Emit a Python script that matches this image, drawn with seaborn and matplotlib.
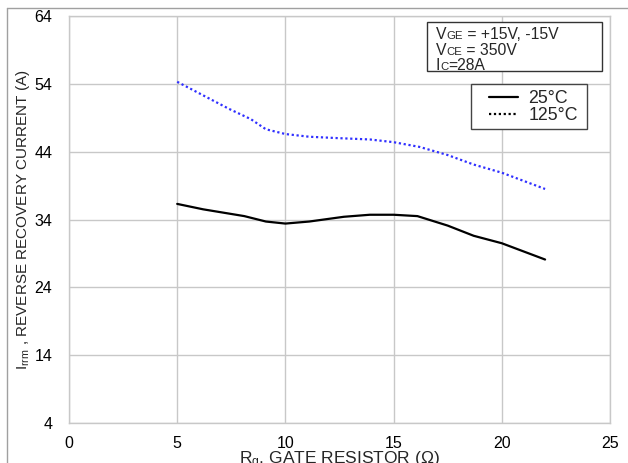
import matplotlib
matplotlib.use("Agg")
import matplotlib.pyplot as plt
import seaborn as sns
import pandas as pd
from matplotlib.lines import Line2D
from matplotlib.patches import Rectangle
from matplotlib.offsetbox import TextArea, HPacker, VPacker, AnchoredOffsetbox

# -----------------------------
# DATA
# -----------------------------
rg_25 = [5, 6.2, 8.1, 9.1, 10, 11.1, 12.7, 13.9, 15, 16.1, 17.5, 18.7, 20, 22]
irrm_25 = [36.3, 35.5, 34.5, 33.7, 33.4, 33.7, 34.4, 34.7, 34.7, 34.5, 33.1, 31.6, 30.5, 28.1]

rg_125 = [5, 6.2, 7.4, 8.4, 9.1, 10, 11.1, 12.4, 13.9, 15, 16.2, 17.5, 18.7, 20, 22]
irrm_125 = [54.3, 52.3, 50.3, 48.8, 47.3, 46.6, 46.2, 46.0, 45.8, 45.4, 44.7, 43.5, 42.1, 40.9, 38.5]

x_ticks = [0, 5, 10, 15, 20, 25]
y_ticks = [4, 14, 24, 34, 44, 54, 64]
legend_labels = ["25°C", "125°C"]

df25 = pd.DataFrame({"rg": rg_25, "irrm": irrm_25})
df125 = pd.DataFrame({"rg": rg_125, "irrm": irrm_125})

# -----------------------------
# STYLE
# -----------------------------
sns.set_style("whitegrid")
plt.rcParams["font.family"] = ["Liberation Sans", "DejaVu Sans"]
plt.rcParams["mathtext.fontset"] = "custom"
plt.rcParams["mathtext.rm"] = "Liberation Sans"
plt.rcParams["mathtext.it"] = "Liberation Sans"

fig = plt.figure(figsize=(6.28, 4.63), dpi=100)
ax = fig.add_axes([69 / 628, 40 / 463, 541 / 628, 407 / 463])

# -----------------------------
# CURVES
# -----------------------------
sns.lineplot(data=df25, x="rg", y="irrm", ax=ax, color="black", linewidth=1.6,
             sort=False, estimator=None)
sns.lineplot(data=df125, x="rg", y="irrm", ax=ax, color="#3030ff", linewidth=1.6,
             linestyle=(0, (1, 1.2)), sort=False, estimator=None)

ax.set_xlim(0, 25)
ax.set_ylim(4, 64)
ax.set_xticks(x_ticks)
ax.set_yticks(y_ticks)
ax.tick_params(axis="both", length=0, labelsize=11.5, colors="black")
ax.tick_params(axis="y", pad=12)
ax.tick_params(axis="x", pad=9)
ax.grid(True, color="#c8c8c8", linewidth=1)
for side, sp in ax.spines.items():
    sp.set_color("#c8c8c8")
    sp.set_linewidth(1)

ax.set_xlabel(r"R$_{\mathregular{g}}$, GATE RESISTOR (Ω)", fontsize=12.5, labelpad=-1)
ax.set_ylabel(r"I$_{\mathregular{rrm}}$ , REVERSE RECOVERY CURRENT (A)", fontsize=11, labelpad=2)

# -----------------------------
# LEGEND (black samples, own frame)
# -----------------------------
ax.add_patch(Rectangle((0.743, 0.7224), 0.2145, 0.1106, transform=ax.transAxes,
                       facecolor="white", edgecolor="#444444", linewidth=1,
                       zorder=4))
handles = [Line2D([], [], color="black", linewidth=1.6),
           Line2D([], [], color="black", linewidth=1.6, linestyle=(0, (1, 1.2)))]
leg = ax.legend(handles, legend_labels, loc="upper right",
                bbox_to_anchor=(0.941, 0.818), fontsize=12.8, frameon=False,
                handlelength=1.6, handletextpad=0.6,
                borderpad=0, labelspacing=0.0, borderaxespad=0)
leg.set_zorder(5)

# -----------------------------
# CONDITIONS BOX
# -----------------------------
ax.add_patch(Rectangle((0.662, 0.865), 0.323, 0.12, transform=ax.transAxes,
                       facecolor="white", edgecolor="#333333", linewidth=1,
                       zorder=4))

def cond_line(big, small, rest):
    parts = [TextArea(big, textprops=dict(fontsize=11.3)),
             TextArea(small, textprops=dict(fontsize=8.2)),
             TextArea(rest, textprops=dict(fontsize=11.3))]
    return HPacker(children=parts, align="baseline", pad=0, sep=0)

rows = [cond_line("V", "GE", " = +15V, -15V"),
        cond_line("V", "CE", " = 350V"),
        cond_line("I", "C", "=28A")]
box = VPacker(children=rows, align="left", pad=0, sep=0.3)
anch = AnchoredOffsetbox(loc="upper left", child=box, pad=0, borderpad=0,
                         frameon=False, bbox_to_anchor=(0.678, 0.972),
                         bbox_transform=ax.transAxes)
anch.set_zorder(5)
ax.add_artist(anch)

# -----------------------------
# FIGURE BORDER (top and left)
# -----------------------------
fig.add_artist(Line2D([7 / 628, 1], [1 - 8 / 463, 1 - 8 / 463],
                      transform=fig.transFigure, color="#a0a0a0", linewidth=1))
fig.add_artist(Line2D([7 / 628, 7 / 628], [0, 1 - 8 / 463],
                      transform=fig.transFigure, color="#a0a0a0", linewidth=1))

fig.savefig("out.png", dpi=100)
